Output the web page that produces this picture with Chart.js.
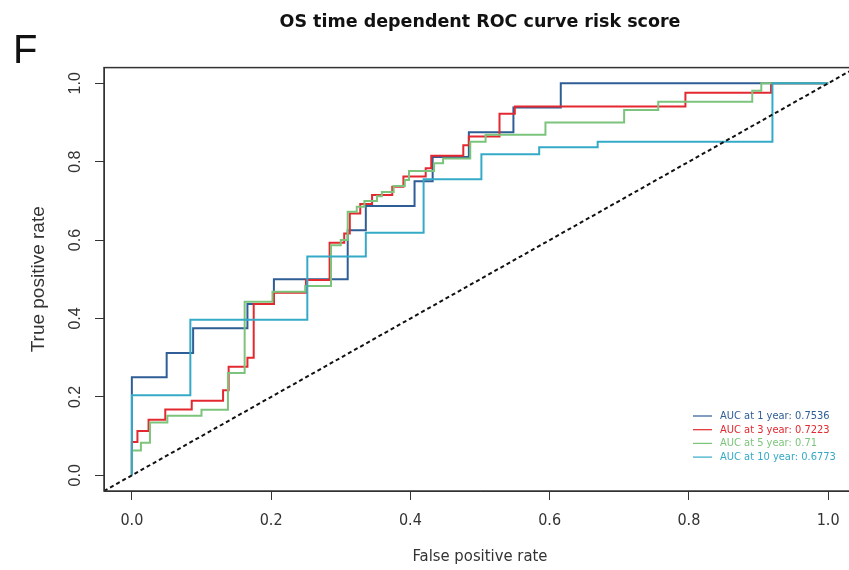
<!DOCTYPE html>
<html>
<head>
<meta charset="utf-8">
<script src="https://cdn.jsdelivr.net/npm/chart.js@4.4.1/dist/chart.umd.min.js"></script>
<style>
  html, body { margin: 0; padding: 0; background: #fff; overflow: hidden; }
  #wrap { position: relative; width: 849px; height: 570px; overflow: hidden; }
  #roc { position: absolute; left: 0; top: 0; }
</style>
</head>
<body>
<div id="wrap"><canvas id="roc" width="856" height="570"></canvas></div>
<script>
// ROC curves of the risk score at four horizons (false positive rate / true positive rate)
const fpr1 = [0, 0, 0.05, 0.05, 0.088, 0.088, 0.166, 0.166, 0.204, 0.204, 0.31, 0.31, 0.336, 0.336, 0.406, 0.406, 0.432, 0.432, 0.484, 0.484, 0.548, 0.548, 0.616, 0.616, 1];
const tpr1 = [0, 0.25, 0.25, 0.312, 0.312, 0.375, 0.375, 0.437, 0.437, 0.5, 0.5, 0.625, 0.625, 0.687, 0.687, 0.75, 0.75, 0.812, 0.812, 0.875, 0.875, 0.938, 0.938, 1, 1];

const fpr3 = [0, 0, 0.008, 0.008, 0.024, 0.024, 0.048, 0.048, 0.086, 0.086, 0.131, 0.131, 0.139, 0.139, 0.166, 0.166, 0.175, 0.175, 0.204, 0.204, 0.25, 0.25, 0.284, 0.284, 0.305, 0.305, 0.313, 0.313, 0.328, 0.328, 0.345, 0.345, 0.374, 0.374, 0.39, 0.39, 0.422, 0.422, 0.43, 0.43, 0.476, 0.476, 0.484, 0.484, 0.528, 0.528, 0.55, 0.55, 0.795, 0.795, 0.918, 0.918, 1];
const tpr3 = [0, 0.085, 0.085, 0.113, 0.113, 0.142, 0.142, 0.168, 0.168, 0.19, 0.19, 0.217, 0.217, 0.277, 0.277, 0.3, 0.3, 0.437, 0.437, 0.466, 0.466, 0.498, 0.498, 0.593, 0.593, 0.617, 0.617, 0.668, 0.668, 0.692, 0.692, 0.715, 0.715, 0.736, 0.736, 0.762, 0.762, 0.783, 0.783, 0.815, 0.815, 0.842, 0.842, 0.864, 0.864, 0.922, 0.922, 0.941, 0.941, 0.976, 0.976, 1, 1];

const fpr5 = [0, 0, 0.013, 0.013, 0.026, 0.026, 0.051, 0.051, 0.1, 0.1, 0.138, 0.138, 0.162, 0.162, 0.202, 0.202, 0.249, 0.249, 0.286, 0.286, 0.3, 0.3, 0.31, 0.31, 0.323, 0.323, 0.334, 0.334, 0.352, 0.352, 0.359, 0.359, 0.376, 0.376, 0.392, 0.392, 0.398, 0.398, 0.434, 0.434, 0.447, 0.447, 0.486, 0.486, 0.508, 0.508, 0.594, 0.594, 0.707, 0.707, 0.756, 0.756, 0.891, 0.891, 0.904, 0.904, 1];
const tpr5 = [0, 0.063, 0.063, 0.083, 0.083, 0.135, 0.135, 0.152, 0.152, 0.167, 0.167, 0.261, 0.261, 0.443, 0.443, 0.468, 0.468, 0.483, 0.483, 0.587, 0.587, 0.6, 0.6, 0.672, 0.672, 0.685, 0.685, 0.7, 0.7, 0.712, 0.712, 0.723, 0.723, 0.738, 0.738, 0.753, 0.753, 0.776, 0.776, 0.796, 0.796, 0.808, 0.808, 0.851, 0.851, 0.869, 0.869, 0.9, 0.9, 0.932, 0.932, 0.953, 0.953, 0.981, 0.981, 1, 1];

const fpr10 = [0, 0, 0.084, 0.084, 0.252, 0.252, 0.336, 0.336, 0.419, 0.419, 0.502, 0.502, 0.585, 0.585, 0.669, 0.669, 0.92, 0.92, 1];
const tpr10 = [0, 0.204, 0.204, 0.397, 0.397, 0.558, 0.558, 0.619, 0.619, 0.755, 0.755, 0.819, 0.819, 0.837, 0.837, 0.851, 0.851, 1, 1];

const horizons = ["1 year", "3 year", "5 year", "10 year"];
const aucs = ["0.7536", "0.7223", "0.71", "0.6773"];
const colors = ["#2f5d95", "#e3282f", "#7cc47c", "#35aac6"];

const xTicks = [0, 0.2, 0.4, 0.6, 0.8, 1.0];
const yTicks = [0, 0.2, 0.4, 0.6, 0.8, 1.0];
const axisRange = [-0.04, 1.04];

function toPoints(xs, ys) {
  return xs.map((x, i) => ({ x: x, y: ys[i] }));
}

const curves = [toPoints(fpr1, tpr1), toPoints(fpr3, tpr3), toPoints(fpr5, tpr5), toPoints(fpr10, tpr10)];

const datasets = curves.map((pts, i) => ({
  label: "AUC at " + horizons[i] + ": " + aucs[i],
  data: pts,
  borderColor: colors[i],
  borderWidth: 2,
  pointRadius: 0,
  fill: false,
  tension: 0,
  order: 4 - i
}));

// chance line
datasets.push({
  label: "reference",
  data: [{ x: axisRange[0], y: axisRange[0] }, { x: axisRange[1], y: axisRange[1] }],
  borderColor: "#111",
  borderWidth: 2,
  borderDash: [4, 3],
  pointRadius: 0,
  fill: false,
  order: 0
});

const decorPlugin = {
  id: "decor",
  afterDraw(chart) {
    const ctx = chart.ctx;
    const area = chart.chartArea;
    const ys = chart.scales.y;
    ctx.save();

    // plot frame
    ctx.strokeStyle = "#333";
    ctx.lineWidth = 1.5;
    ctx.strokeRect(area.left, area.top, area.right - area.left, area.bottom - area.top);

    // title
    ctx.fillStyle = "#111";
    ctx.textAlign = "center";
    ctx.textBaseline = "middle";
    ctx.font = "bold 17.5px 'DejaVu Sans'";
    ctx.fillText("OS time dependent ROC curve risk score", (area.left + area.right) / 2, 22);

    // panel letter
    ctx.textAlign = "left";
    ctx.font = "40px 'Liberation Sans'";
    ctx.fillText("F", 13, 52);

    // y tick labels, rotated like the axis
    ctx.fillStyle = "#333";
    ctx.font = "16px 'Liberation Sans'";
    ctx.textAlign = "center";
    yTicks.forEach(v => {
      const py = ys.getPixelForValue(v);
      ctx.save();
      ctx.translate(76, py);
      ctx.rotate(-Math.PI / 2);
      ctx.fillText(v.toFixed(1), 0, 0);
      ctx.restore();
    });

    // axis titles
    ctx.save();
    ctx.translate(39, (area.top + area.bottom) / 2);
    ctx.rotate(-Math.PI / 2);
    ctx.font = "19px 'Liberation Sans'";
    ctx.fillText("True positive rate", 0, 0);
    ctx.restore();

    ctx.font = "16.5px 'DejaVu Sans Condensed'";
    ctx.fillText("False positive rate", (area.left + area.right) / 2, 557);

    // legend, bottom right inside the plot
    ctx.font = "11px 'DejaVu Sans Condensed'";
    ctx.textAlign = "left";
    ctx.lineWidth = 1.2;
    const lx = 693, tx = 720;
    datasets.slice(0, 4).forEach((ds, i) => {
      const ry = 416 + i * 13.7;
      ctx.strokeStyle = ds.borderColor;
      ctx.beginPath();
      ctx.moveTo(lx, ry);
      ctx.lineTo(lx + 19, ry);
      ctx.stroke();
      ctx.fillStyle = ds.borderColor;
      ctx.fillText(ds.label, tx, ry);
    });

    ctx.restore();
  }
};

new Chart(document.getElementById("roc"), {
  type: "line",
  data: { datasets: datasets },
  options: {
    responsive: false,
    animation: false,
    layout: { padding: { top: 67.6, left: 0, right: 0, bottom: 0 } },
    plugins: { legend: { display: false }, tooltip: { enabled: false } },
    scales: {
      x: {
        type: "linear",
        min: axisRange[0],
        max: axisRange[1],
        afterBuildTicks: s => { s.ticks = xTicks.map(v => ({ value: v })); },
        afterFit: s => { s.height = 79; },
        ticks: {
          callback: v => Number(v).toFixed(1),
          font: { family: "DejaVu Sans Condensed", size: 16 },
          color: "#333",
          padding: 11,
          maxRotation: 0,
          autoSkip: false
        },
        grid: { drawOnChartArea: false, drawTicks: true, tickLength: 9, color: "#333" },
        border: { display: true, color: "#333" }
      },
      y: {
        type: "linear",
        min: axisRange[0],
        max: axisRange[1],
        afterBuildTicks: s => { s.ticks = yTicks.map(v => ({ value: v })); },
        afterFit: s => { s.width = 104; },
        ticks: { display: false },
        grid: { drawOnChartArea: false, drawTicks: true, tickLength: 9, color: "#333" },
        border: { display: true, color: "#333" }
      }
    }
  },
  plugins: [decorPlugin]
});
</script>
</body>
</html>
